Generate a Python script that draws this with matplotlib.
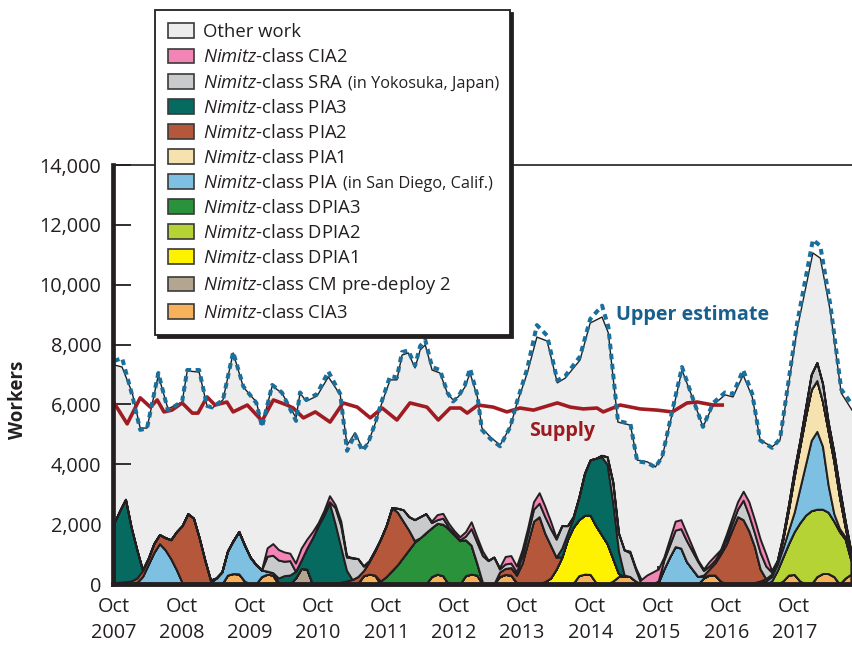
import numpy as np
import matplotlib
matplotlib.use("Agg")
import matplotlib.pyplot as plt
from matplotlib.patches import Patch

plt.rcParams['font.family'] = ['Open Sans', 'DejaVu Sans']
plt.rcParams['mathtext.fontset'] = 'custom'
plt.rcParams['mathtext.it'] = 'Open Sans:italic'
plt.rcParams['mathtext.rm'] = 'Open Sans'

# ---------------- data (months since Oct 2007) ----------------
N_MONTHS = 131
year_labels = ['Oct\n2007', 'Oct\n2008', 'Oct\n2009', 'Oct\n2010', 'Oct\n2011', 'Oct\n2012',
               'Oct\n2013', 'Oct\n2014', 'Oct\n2015', 'Oct\n2016', 'Oct\n2017']
year_ticks = [0, 12, 24, 36, 48, 60, 72, 84, 96, 108, 120]

# total demand (top of "Other work") and upper estimate
total_months = [0, 1.4, 3.2, 4.6, 5.8, 7.8, 9.5, 12.0, 12.9, 15.0, 16.4, 17.3, 19.2, 21.0, 22.8,
                25.1, 26.1, 27.9, 29.6, 32.1, 32.8, 33.9, 35.8, 37.8, 39.9, 41.1, 42.5, 43.8,
                44.8, 46.1, 47.3, 48.7, 49.9, 50.8, 51.9, 53.1, 54.0, 54.9, 56.1, 57.5, 58.8,
                59.8, 60.7, 61.9, 62.8, 64.1, 64.9, 66.4, 68.1, 69.9, 71.1, 72.9, 74.6, 76.4,
                78.2, 79.6, 82.2, 84.0, 86.1, 87.2, 88.9, 91.1, 92.3, 94.1, 95.5, 96.7, 98.5,
                100.2, 102.2, 103.9, 105.7, 107.8, 109.2, 111.0, 112.6, 114.0, 116.1, 117.5,
                120.5, 123.3, 124.6, 126.4, 128.3, 130.2]
total_workers = [7320, 7250, 6380, 5210, 5210, 6980, 5850, 6080, 7120, 7080, 5950, 5880, 6150,
                 7720, 6580, 6080, 5310, 6620, 6380, 5550, 6380, 6110, 6280, 6920, 6320, 4640,
                 5050, 4540, 4710, 5380, 6080, 6820, 6820, 7650, 7720, 7220, 7820, 7990, 7150,
                 7050, 6380, 6150, 6250, 6580, 7050, 6250, 5210, 4910, 4640, 5250, 6050, 7050,
                 8250, 8120, 6720, 6880, 7480, 8720, 8920, 8390, 5410, 5310, 4140, 4080, 3910,
                 4240, 5710, 7150, 6150, 5250, 5980, 6320, 6250, 6980, 6250, 4810, 4580, 4810,
                 8490, 11060, 10890, 9090, 6380, 5810]
upper_estimate = [7450, 7550, 6300, 5150, 5200, 7050, 5800, 6100, 7150, 7150, 5950, 5900, 6150,
                  7750, 6600, 6050, 5250, 6650, 6400, 5450, 6400, 6150, 6350, 7100, 6350, 4450,
                  5000, 4450, 4700, 5400, 6150, 6950, 6900, 7750, 7800, 7300, 7950, 8150, 7250,
                  7150, 6400, 6100, 6250, 6650, 7200, 6300, 5150, 4850, 4600, 5250, 6100, 7200,
                  8650, 8300, 6800, 6950, 7600, 8850, 9300, 8600, 5450, 5350, 4100, 4050, 3900,
                  4250, 5800, 7250, 6150, 5250, 6050, 6400, 6350, 7150, 6350, 4800, 4550, 4850,
                  8700, 11500, 11300, 9300, 6500, 6000]

supply_months = [0, 2.3, 4.6, 6.4, 7.6, 8.8, 10.2, 12.0, 13.8, 14.8, 16.4, 17.8, 19.9, 21.0,
                 23.5, 26.1, 28.1, 30.5, 31.6, 33.4, 35.5, 38.1, 40.4, 42.9, 45.2, 47.3, 49.9,
                 52.2, 55.2, 57.2, 59.3, 61.1, 62.3, 64.2, 66.9, 69.3, 71.6, 74.0, 78.2, 80.5,
                 82.8, 85.2, 86.3, 89.3, 92.8, 95.8, 98.5, 101.1, 102.9, 105.7, 107.3]
supply_workers = [6050, 5350, 6220, 5910, 6150, 5750, 5810, 6050, 5710, 5710, 6250, 5980, 6080,
                  5750, 5980, 5450, 6150, 5980, 5880, 5550, 5750, 5410, 6050, 5910, 5550, 5880,
                  5480, 6050, 5910, 5480, 5880, 5880, 5710, 5980, 5910, 5750, 5880, 5810, 6050,
                  5910, 5850, 5880, 5750, 5980, 5850, 5810, 5750, 6050, 6080, 5980, 5980]

# project workloads: (first month, monthly values)
cia3 = [(20, [300, 350, 340, 100]), (26, [250, 330, 300]), (43, [30, 280, 330, 300]),
        (56, [250, 330, 280]), (62, [280, 330, 300]), (68, [250, 320, 300, 50]),
        (81, [30, 280, 330, 320, 50]), (88, [100, 250, 260, 250, 100]),
        (104, [200, 300, 300, 100]), (118, [100, 300, 320, 100]),
        (124, [250, 350, 350, 250]), (129, [200, 330])]
cm_predeploy2 = [(32, [200, 520, 500])]
dpia1 = [(75, [20, 80, 200, 500, 900, 1500, 1870, 1870, 1970, 1980, 1900, 1650, 1350, 750, 100])]
dpia2 = [(116, [100, 450, 800, 1050, 1430, 1950, 2300, 2450, 2250, 2150, 2050, 1850, 1750,
                1300, 470])]
dpia3 = [(47, [100, 250, 450, 650, 900, 1150, 1400, 1550, 1720, 1630, 1700, 1720, 1850, 1650,
               1450, 1200, 970, 400, 50])]
pia_sd = [(4, [50, 250, 650, 1050, 1350, 1150, 850, 480, 50]),
          (17, [50, 200, 400, 800, 1100, 1410, 1200, 900, 650, 220, 100, 80, 50, 30]),
          (96, [50, 500, 900, 1250, 1200, 750, 500, 250, 50]),
          (113, [30, 50, 100, 150, 200, 300, 450, 650, 1150, 1700, 2350, 2600, 2100, 900, 250,
                 100, 80, 80])]
pia1 = [(113, [20, 50, 80, 80, 80, 300, 700, 1200, 1400, 1600, 1700, 1700, 1500, 1800, 1750,
               1050, 320, 120])]
pia2 = [(0, [50, 60, 80, 100, 150, 200, 200, 300, 300, 400, 630, 1270, 1900, 2350, 2200, 1550,
             800, 80]),
        (39, [30, 60, 100, 150, 220, 170, 420, 800, 1400, 1700, 2100, 1750, 1200, 650, 50]),
        (68, [150, 200, 250, 250, 700, 1400, 2100, 2230, 1620, 1100, 400]),
        (104, [50, 200, 400, 900, 1330, 1800, 2250, 2150, 1780, 1200, 400])]
pia3 = [(0, [2000, 2400, 2750, 1800, 950, 20]),
        (29, [150, 250, 300, 220, 280, 700, 1550, 1950, 2300, 2700, 1980, 1170, 360]),
        (79, [300, 200, 300, 750, 1400, 1850, 2250, 2600, 2650, 1850, 750, 40])]
sra = [(27, [500, 580, 600, 480, 480]),
       (38, [50, 540, 720, 440, 720, 600, 150, 30, 30]),
       (50, [130, 380, 450, 700, 700, 630, 170, 120, 200, 50, 30, 30, 120, 550, 700, 900, 780,
             900, 100, 150, 150, 100]),
       (72, [250, 300, 400, 450, 550, 550, 600, 750, 250, 50]),
       (86, [50, 250, 700, 600, 840, 800, 400]),
       (96, [50, 300, 400, 550, 650, 700, 600, 500, 150, 100, 100, 100, 170, 200, 250, 650, 520,
             450, 550, 420, 70]),
       (117, [50, 100, 150, 200, 200, 300, 500, 600, 600, 300, 300, 300, 200, 100])]
cia2 = [(27, [280, 390, 350, 310, 250, 280, 400, 300, 200, 100, 150, 200, 100, 150, 50, 10]),
        (56, [50, 170, 160, 130, 100, 100, 150, 230, 180, 150, 20]),
        (68, [50, 250, 250, 200, 200, 200, 250, 350, 350, 250, 50]),
        (91, [50, 50]),
        (93, [150, 300, 400, 400, 100, 200, 300, 300, 250, 150, 50, 50, 150, 150, 50, 150, 200,
              250, 300, 450, 450, 450, 400, 50])]

labels = ['Other work', 'CIA2', 'SRA', 'PIA3', 'PIA2', 'PIA1', 'PIA', 'DPIA3', 'DPIA2', 'DPIA1',
          'CM pre-deploy 2', 'CIA3']


def build(segments):
    arr = np.zeros(N_MONTHS)
    for start, vals in segments:
        arr[start:start + len(vals)] = vals
    return arr


months = np.arange(N_MONTHS)
stack_series = [cia3, cm_predeploy2, dpia1, dpia2, dpia3, pia_sd, pia1, pia2, pia3, sra, cia2]
stack_colors = ['#f7b15a', '#b3a690', '#fff200', '#b5d334', '#2a923b', '#7dc0e1', '#f6e2ae',
                '#b5573a', '#066a60', '#c9cacc', '#f284b6']
other_color = '#ededed'
edge = '#231f20'

# ---------------- figure ----------------
fig = plt.figure(figsize=(8.52, 6.45), dpi=100)
ax = fig.add_axes([113 / 852, 1 - 584 / 645, (852 - 113) / 852, (584 - 165) / 645])
ax.set_xlim(-0.2, 130.2)
ax.set_ylim(0, 14000)

ax.fill_between(total_months, 0, total_workers, color=other_color, lw=0, zorder=1)
ax.plot(total_months, total_workers, color=edge, lw=1.0, zorder=2)
ax.stackplot(months, *[build(s) for s in stack_series], colors=stack_colors,
             edgecolor=edge, linewidth=1.4, zorder=3)
ax.plot(supply_months, supply_workers, color='#a01c22', lw=2.6, zorder=4,
        solid_joinstyle='round')
ax.plot(total_months, upper_estimate, color='#1a6f9b', lw=2.9, ls=(0, (1.4, 1.1)), zorder=5)

ax.annotate('Upper estimate', xy=(616, 645 - 320), xycoords='figure pixels',
            fontsize=14.2, fontweight='bold', color='#175f8c', va='baseline', ha='left')
ax.annotate('Supply', xy=(529, 645 - 436), xycoords='figure pixels',
            fontsize=14.2, fontweight='bold', color='#9b1b21', va='baseline', ha='left')

# axes styling
ax.spines['right'].set_visible(False)
ax.spines['left'].set_linewidth(3.4)
ax.spines['bottom'].set_linewidth(3.5)
ax.spines['top'].set_linewidth(1.2)
for s in ax.spines.values():
    s.set_color(edge)
    s.set_zorder(6)

ax.set_yticks(range(0, 14001, 2000))
ax.set_yticklabels([f'{v:,}' for v in range(0, 14001, 2000)])
ax.set_xticks(year_ticks)
ax.set_xticklabels(year_labels, linespacing=1.38)
ax.tick_params(axis='both', direction='in', length=13, width=1.3, color=edge,
               labelsize=14.3, labelcolor=edge)
ax.tick_params(axis='y', pad=8.5)
ax.tick_params(axis='x', pad=9.5)
for t in ax.get_xticklines() + ax.get_yticklines():
    t.set_zorder(7)

fig.text(18 / 852, 1 - 400 / 645, 'Workers', rotation=90, fontsize=13.5, fontweight='bold',
         color=edge, ha='center', va='center')

# legend
handles = [Patch(facecolor=other_color, edgecolor='#3a3a3a', lw=1.2)]
for c in reversed(stack_colors):
    handles.append(Patch(facecolor=c, edgecolor='#3a3a3a', lw=1.2))
leg_labels = ['Other work'] + [r'$\mathit{Nimitz}$-class ' + l for l in labels[1:]]
leg = fig.legend(handles, leg_labels, loc='upper left', mode='expand',
                 bbox_to_anchor=(155 / 852, 1 - 328 / 645, 355 / 852, 318 / 645),
                 bbox_transform=fig.transFigure,
                 borderaxespad=0, fontsize=13.3, frameon=True, fancybox=False,
                 handlelength=1.4, handleheight=0.86, handletextpad=0.49,
                 labelspacing=0.385, borderpad=0.72,
                 shadow={'color': edge, 'alpha': 1.0}, labelcolor=edge)
leg.get_frame().set_edgecolor(edge)
leg.get_frame().set_linewidth(1.3)
leg.set_zorder(10)

fig.canvas.draw()
renderer = fig.canvas.get_renderer()
extras = {'SRA': '(in Yokosuka, Japan)', 'PIA': '(in San Diego, Calif.)'}
for txt in leg.get_texts():
    s = txt.get_text()
    for key, extra in extras.items():
        if s.endswith('class ' + key):
            bb = txt.get_window_extent(renderer)
            fig.text(bb.x1 + 5, (bb.y0 + bb.y1) / 2 - 1, extra, transform=None, fontsize=11.7,
                     color=edge, ha='left', va='center', zorder=11)

fig.savefig('out.png', dpi=100)
